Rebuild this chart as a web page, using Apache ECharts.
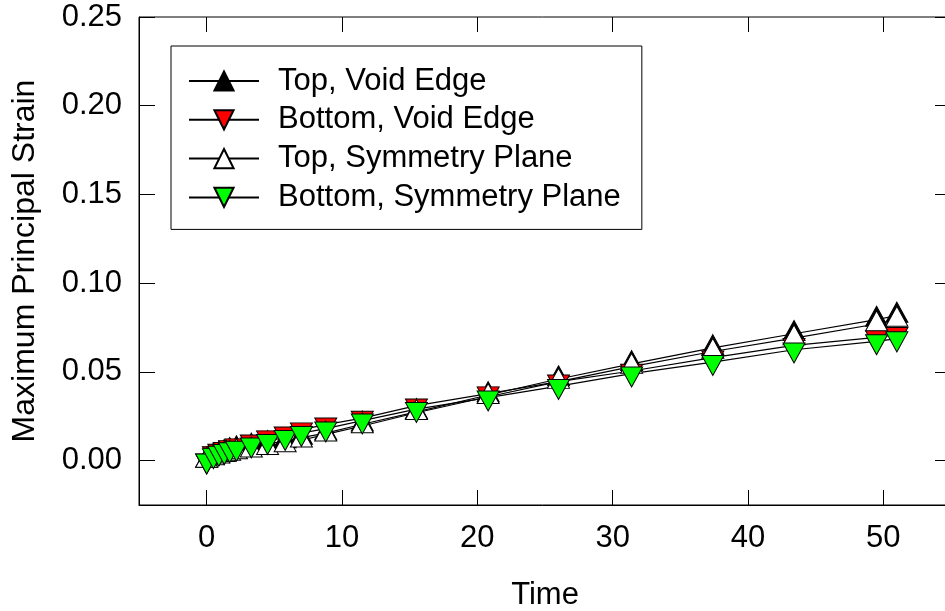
<!DOCTYPE html>
<html>
<head>
<meta charset="utf-8">
<script src="https://cdn.jsdelivr.net/npm/echarts@6/dist/echarts.min.js"></script>
<style>
html,body{margin:0;padding:0;background:#fff;}
#chart{width:945px;height:611px;}
</style>
</head>
<body>
<div id="chart"></div>
<script>
// ---- data ----
var times = [0, 0.5, 0.9, 1.3, 1.7, 2.2, 3.3, 4.5, 5.8, 7.0, 8.8, 11.5, 15.5, 20.8, 26.0, 31.4, 37.4, 43.4, 49.5, 51.0];
var topVoidEdge = [0, 0.0025, 0.0035, 0.0045, 0.0055, 0.0065, 0.008, 0.0095, 0.011, 0.013, 0.0155, 0.0205, 0.0275, 0.037, 0.046, 0.0545, 0.0635, 0.0715, 0.0795, 0.0818];
var bottomVoidEdge = [0, 0.004, 0.0055, 0.0065, 0.0075, 0.0085, 0.0107, 0.013, 0.0152, 0.0175, 0.0203, 0.024, 0.031, 0.0378, 0.0445, 0.0505, 0.058, 0.065, 0.0695, 0.0712];
var topSymmetryPlane = [0, 0.0015, 0.0025, 0.0033, 0.004, 0.0048, 0.0058, 0.0072, 0.0088, 0.0115, 0.0148, 0.0195, 0.027, 0.036, 0.0445, 0.053, 0.0615, 0.069, 0.077, 0.0795];
var bottomSymmetryPlane = [0, 0.003, 0.0043, 0.0053, 0.0063, 0.0072, 0.009, 0.011, 0.0132, 0.0155, 0.018, 0.0225, 0.029, 0.0355, 0.042, 0.049, 0.0555, 0.0625, 0.0672, 0.0688];
var seriesNames = ['Top, Void Edge', 'Bottom, Void Edge', 'Top, Symmetry Plane', 'Bottom, Symmetry Plane'];
var xTitle = 'Time';
var yTitle = 'Maximum Principal Strain';

function pairs(ys) { return times.map(function (t, i) { return [t, ys[i]]; }); }

var FONT = 'Liberation Sans, Arial, sans-serif';
var FS = 31;
var UP = 'triangle';
var DOWN = 'path://M-1,-1L1,-1L0,1Z';
var SYM = [22, 20];

function mkSeries(name, ys, symbol, fill, up) {
  return {
    name: name, type: 'line', data: pairs(ys),
    xAxisIndex: 0, yAxisIndex: 0,
    symbol: symbol, symbolSize: SYM, symbolOffset: [0, up ? -3.3 : 3.3],
    showAllSymbol: true,
    lineStyle: { color: '#000', width: 1.2 },
    itemStyle: { color: fill, borderColor: '#000', borderWidth: 1 },
    emphasis: { disabled: true },
    animation: false
  };
}

var chart = echarts.init(document.getElementById('chart'), null, { renderer: 'canvas' });
var xLabelFmt = function (v) { return (v >= 0 && v <= 50) ? String(v) : ''; };
var yLabelFmt = function (v) { return (v >= 0 && v <= 0.2500001) ? v.toFixed(2) : ''; };
var tick = function (len) { return { show: true, inside: true, length: len, lineStyle: { color: '#000', width: 1 } }; };

chart.setOption({
  backgroundColor: '#fff',
  animation: false,
  grid: { left: 139, top: 17, width: 812, height: 488, show: true, borderColor: '#000', borderWidth: 1, containLabel: false, outerBoundsMode: 'none' },
  legend: {
    orient: 'vertical', left: 171, top: 46,
    padding: [19.5, 21, 16.5, 17],
    itemGap: 7.8, itemWidth: 70, itemHeight: 24,
    borderColor: '#000', borderWidth: 1,
    textStyle: { fontFamily: FONT, fontSize: FS, color: '#000', padding: [0, 0, 0, 14] },
    data: seriesNames
  },
  xAxis: [{
    type: 'value', min: -5, max: 55, splitNumber: 6,
    name: xTitle, nameLocation: 'middle', nameGap: 75,
    nameTextStyle: { fontFamily: FONT, fontSize: FS, color: '#000' },
    axisLine: { show: true, onZero: false, lineStyle: { color: '#000', width: 1 } },
    axisTick: tick(15),
    axisLabel: { margin: 18, fontFamily: FONT, fontSize: FS, color: '#000', formatter: xLabelFmt },
    splitLine: { show: false }
  }, {
    type: 'value', position: 'top', min: -5, max: 55, splitNumber: 6,
    axisLine: { show: false, onZero: false },
    axisTick: tick(15),
    axisLabel: { show: false }, splitLine: { show: false }
  }],
  yAxis: [{
    type: 'value', min: -0.025, max: 0.25, splitNumber: 5,
    name: yTitle, nameLocation: 'middle', nameGap: 98, nameRotate: 90,
    nameTextStyle: { fontFamily: FONT, fontSize: 32, color: '#000' },
    axisLine: { show: true, onZero: false, lineStyle: { color: '#000', width: 1 } },
    axisTick: tick(16),
    axisLabel: { margin: 17, fontFamily: FONT, fontSize: FS, color: '#000', formatter: yLabelFmt },
    splitLine: { show: false }
  }, {
    type: 'value', position: 'right', min: -0.025, max: 0.25, splitNumber: 5,
    axisLine: { show: false, onZero: false },
    axisTick: tick(16),
    axisLabel: { show: false }, splitLine: { show: false }
  }],
  series: [
    mkSeries(seriesNames[0], topVoidEdge, UP, '#000000', true),
    mkSeries(seriesNames[1], bottomVoidEdge, DOWN, '#ff0000', false),
    mkSeries(seriesNames[2], topSymmetryPlane, UP, '#ffffff', true),
    mkSeries(seriesNames[3], bottomSymmetryPlane, DOWN, '#00ff00', false)
  ]
});
</script>
</body>
</html>
